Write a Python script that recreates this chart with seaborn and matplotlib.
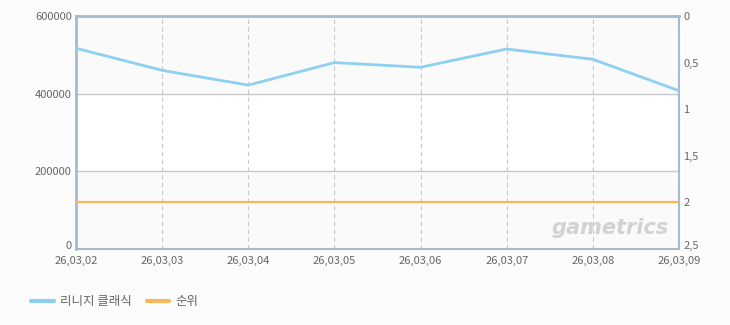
import matplotlib
matplotlib.use("Agg")
import matplotlib.pyplot as plt
import matplotlib.transforms as mtransforms
import seaborn as sns
import pandas as pd
import numpy as np
from matplotlib.lines import Line2D

dates = ["26,03,02", "26,03,03", "26,03,04", "26,03,05", "26,03,06", "26,03,07", "26,03,08", "26,03,09"]
users = [517000, 460000, 422000, 480000, 468000, 515000, 488500, 407500]
rank = [2, 2, 2, 2, 2, 2, 2, 2]
left_ticks = [0, 200000, 400000, 600000]
right_ticks = [0, 0.5, 1, 1.5, 2, 2.5]
right_labels = ["0", "0,5", "1", "1,5", "2", "2,5"]
series_names = ["리니지 클래식", "순위"]

sns.set_theme(style="white")
plt.rcParams['font.family'] = ['Noto Sans CJK KR', 'DejaVu Sans']

blue = "#8ed0f0"
orange = "#f6b85a"
spine_c = "#a8bace"
txt_c = "#666666"

df = pd.DataFrame({"x": np.arange(len(dates)), "users": users, "rank": rank})

fig = plt.figure(figsize=(7.3, 3.25), dpi=100)
fig.patch.set_facecolor("#fcfcfc")
ax = fig.add_axes([76/730, 1-249/325, (679-76)/730, (249-16)/325])
ax.set_facecolor("white")

# alternating bands
ax.axhspan(0, 200000, color="#fafafa", zorder=0)
ax.axhspan(400000, 600000, color="#fafafa", zorder=0)

sns.lineplot(data=df, x="x", y="users", ax=ax, color=blue, linewidth=2, zorder=3, legend=False)
ax.set_xlim(0, len(dates)-1)
ax.set_ylim(0, 600000)
ax.set_yticks(left_ticks)
ax.set_yticklabels([str(v) for v in left_ticks])
ax.set_xticks(df["x"])
ax.set_xticklabels(dates)
ax.set_xlabel("")
ax.set_ylabel("")
for y in [200000, 400000]:
    ax.axhline(y, color="#c8c8c8", linewidth=1, zorder=1)
for x in range(1, len(dates)-1):
    ax.axvline(x, color="#c8c8c8", linewidth=0.8, linestyle=(0, (4, 3)), zorder=1)

ax.tick_params(axis="both", length=0, colors=txt_c, labelsize=8)
ax.tick_params(axis="y", pad=3)
ax.tick_params(axis="x", pad=5)
for side in ["left", "right", "top", "bottom"]:
    ax.spines[side].set_color(spine_c)
ax.spines["left"].set_linewidth(2)
ax.spines["top"].set_linewidth(2)
ax.spines["bottom"].set_linewidth(1.5)
ax.spines["right"].set_linewidth(1.5)

ax2 = ax.twinx()
sns.lineplot(data=df, x="x", y="rank", ax=ax2, color=orange, linewidth=1.6, zorder=3, legend=False)
ax2.set_ylim(2.5, 0)
ax2.set_yticks(right_ticks)
ax2.set_yticklabels(right_labels)
ax2.set_ylabel("")
ax2.tick_params(axis="y", length=0, colors=txt_c, labelsize=8, pad=3)
for side in ["left", "right", "top", "bottom"]:
    ax2.spines[side].set_visible(False)

# nudge corner labels upward slightly (as in reference)
up = mtransforms.ScaledTranslation(0, 3/72, fig.dpi_scale_trans)
ax.get_yticklabels()[0].set_transform(ax.get_yticklabels()[0].get_transform() + up)
ax2.get_yticklabels()[-1].set_transform(ax2.get_yticklabels()[-1].get_transform() + up)

# watermark
fig.text(610/730, 1-228/325, "gametrics", fontsize=15, fontstyle="italic", fontweight="bold",
         color="#d2d2d2", ha="center", va="center", family=["DejaVu Sans"])

handles = [Line2D([0], [0], color=blue, linewidth=3), Line2D([0], [0], color=orange, linewidth=3)]
fig.legend(handles, series_names, loc="center left", bbox_to_anchor=(20/730, 1-302/325),
           ncol=2, frameon=False, fontsize=9, handlelength=1.8, columnspacing=1.2,
           handletextpad=0.5, labelcolor=txt_c)

fig.savefig("out.png", dpi=100, facecolor=fig.get_facecolor())
